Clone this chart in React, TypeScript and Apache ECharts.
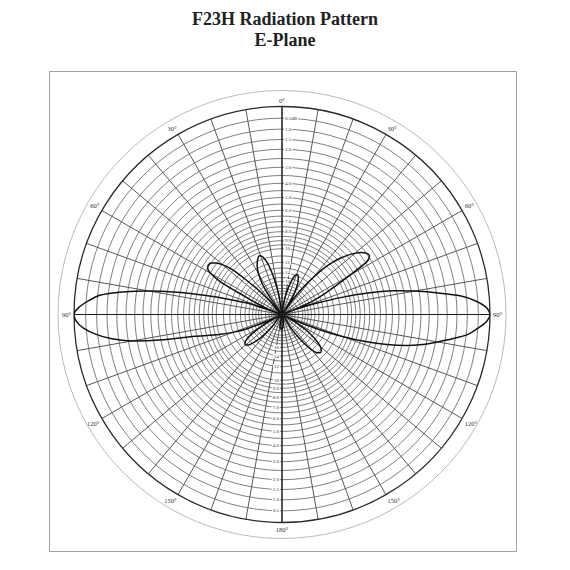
import { useEffect, useRef } from 'react'
import * as echarts from 'echarts'

// concentric grid rings of the polar paper, dB below peak
const ringDb = [
  0.5, 1, 1.5, 2, 2.5, 3, 3.5, 4, 4.5, 5, 5.5, 6, 6.5, 7, 7.5, 8, 8.5, 9, 9.5, 10,
  11, 12, 13, 14, 15, 16, 17, 18, 19, 20, 22, 24, 26, 28, 30,
]

// scale labels printed along the 0° / 180° axis
const topLabelDb = [0.5, 1, 1.5, 2, 3, 4, 5, 6, 7, 8, 9, 10, 12, 14, 16]
const topLabels = ['0.5dB', '1.0', '1.5', '2.0', '3.0', '4.0', '5.0', '6.0', '7.0', '8.0', '9.0', '10', '12', '14', '16']
const bottomLabelDb = [0.5, 1, 1.5, 2, 3, 4, 5, 6, 7, 8, 9, 10, 12, 14, 16]
const bottomLabels = ['0.5', '1.0', '1.5', '2.0', '3.0', '4.0', '5.0', '6.0', '7.0', '8.0', '9.0', '10', '12', '14', '16']

// main axes (0-180 and 90-270)
const axisAngles = [0, 90]

// measured E-plane pattern: bearing (deg, clockwise from top) and relative level (dB)
const patternAngle = [
  0, 6, 9, 12, 15, 18, 21, 24, 27, 30, 32, 34, 36, 38, 40, 42, 44, 46, 48, 50, 52, 54, 56, 58, 60, 62, 64, 66, 68, 69,
  70, 72, 74, 76, 78, 80, 82, 84, 86, 88, 90, 92, 94, 96, 98, 100, 102, 104, 106, 108, 110, 112, 114, 116,
  120, 123, 126, 129, 132, 135, 138, 141, 144, 147, 150, 165, 172, 178, 184, 190, 196,
  216, 219, 222, 225, 228, 231, 234, 237, 240, 242, 244,
  246, 248, 250, 252, 254, 256, 258, 260, 262, 264, 266, 268, 270, 272, 274, 276, 278, 280, 282, 284, 286, 288, 289, 290,
  292, 294, 296, 298, 300, 302, 304, 306, 308, 310, 312, 314, 316, 318, 320,
  323, 325, 327, 330, 333, 336, 339, 342, 345, 348, 351, 354, 360,
]
const patternDb = [
  -40, -40, -24, -19, -16, -14.2, -13.7, -14.3, -15.6, -18.5, -23, -40, -20, -15.5, -12.8, -10.6, -9.2, -8.2, -7.4, -6.8, -6.3, -6.0, -5.9, -6.3, -8.5, -10.8, -12.8, -15.5, -21, -40,
  -21, -15, -10.5, -7.4, -5.2, -3.7, -2.5, -1.3, -0.6, -0.15, 0, -0.15, -0.5, -0.9, -1.6, -2.4, -3.2, -4.2, -5.6, -7.5, -10.2, -14.5, -21, -40,
  -22, -17, -14.5, -12.7, -11.9, -11.7, -12.2, -13.8, -17, -23, -40, -40, -27, -23.5, -23, -25, -40,
  -40, -22, -17, -14.5, -13.2, -12.8, -13.3, -15, -19, -25, -40,
  -21, -14.5, -12, -10.2, -8.8, -7.3, -4.7, -2.7, -1.6, -0.9, -0.4, -0.1, 0, -0.2, -0.6, -1.1, -2.2, -3.7, -5.8, -8.5, -11.6, -15, -20, -40,
  -22, -17.5, -13.8, -9.5, -8, -7.5, -7.4, -7.5, -7.9, -8.6, -9.8, -12.5, -16, -22, -40,
  -40, -20, -15.5, -13, -11.6, -10.8, -10.4, -10.8, -12.3, -15.5, -21, -40, -40,
]

const amp = (db: number) => Math.pow(10, db / 20)
const serif = '"Liberation Serif", "DejaVu Serif", serif'

export default function App() {
  const ref = useRef<HTMLDivElement>(null)

  useEffect(() => {
    if (!ref.current) return
    const chart = echarts.init(ref.current, undefined, { renderer: 'svg' })

    chart.setOption({
      animation: false,
      backgroundColor: '#fff',
      title: {
        text: 'F23H Radiation Pattern',
        subtext: 'E-Plane',
        left: 'center',
        top: 5,
        itemGap: 3,
        textStyle: { fontFamily: serif, fontWeight: 'bold', fontSize: 18, color: '#222' },
        subtextStyle: { fontFamily: serif, fontWeight: 'bold', fontSize: 18, color: '#222' },
      },
      graphic: [
        {
          type: 'rect',
          shape: { x: 49.5, y: 71.5, width: 467, height: 480 },
          style: { fill: 'none', stroke: '#a0a0a0', lineWidth: 1 },
          silent: true,
        },
      ],
      polar: [
        { center: [282, 314.5], radius: 208 },
        { center: [282, 314.5], radius: 224 },
      ],
      angleAxis: [
        {
          polarIndex: 0,
          type: 'value',
          min: 0,
          max: 360,
          interval: 10,
          startAngle: 90,
          clockwise: true,
          axisLine: { lineStyle: { color: '#2a2a2a', width: 1.3 } },
          axisTick: { show: false },
          splitLine: { show: true, lineStyle: { color: '#3a3a3a', width: 0.85 } },
          axisLabel: {
            margin: 3,
            fontFamily: serif,
            fontSize: 6.5,
            color: '#333',
            formatter: (v: number) => (v % 30 === 0 && v < 360 ? `${v <= 180 ? v : 360 - v}°` : ''),
          },
        },
        {
          polarIndex: 1,
          type: 'value',
          min: 0,
          max: 360,
          startAngle: 90,
          axisLine: { lineStyle: { color: '#a8a8a8', width: 0.8 } },
          axisTick: { show: false },
          axisLabel: { show: false },
          splitLine: { show: false },
        },
      ],
      radiusAxis: [
        { polarIndex: 0, type: 'value', min: 0, max: 1, axisLine: { show: false }, axisTick: { show: false }, axisLabel: { show: false }, splitLine: { show: false } },
        { polarIndex: 1, type: 'value', min: 0, max: 1, axisLine: { show: false }, axisTick: { show: false }, axisLabel: { show: false }, splitLine: { show: false } },
      ],
      series: [
        {
          type: 'custom',
          coordinateSystem: 'polar',
          polarIndex: 0,
          silent: true,
          z: 1,
          data: ringDb.map((d) => [amp(-d), 0]),
          renderItem: (params: any, api: any) => {
            const cs = params.coordSys
            const p = api.coord([api.value(0), 0])
            const r = Math.hypot(p[0] - cs.cx, p[1] - cs.cy)
            return {
              type: 'circle',
              shape: { cx: cs.cx, cy: cs.cy, r },
              style: { fill: 'none', stroke: '#555', lineWidth: 0.75 },
            }
          },
        },
        {
          type: 'custom',
          coordinateSystem: 'polar',
          polarIndex: 0,
          silent: true,
          z: 2,
          data: axisAngles.map((a) => [1, a]),
          renderItem: (_params: any, api: any) => {
            const a = api.value(1)
            const p1 = api.coord([1, a])
            const p2 = api.coord([1, a + 180])
            return {
              type: 'line',
              shape: { x1: p1[0], y1: p1[1], x2: p2[0], y2: p2[1] },
              style: { stroke: '#1a1a1a', lineWidth: 1.2 },
            }
          },
        },
        {
          type: 'custom',
          coordinateSystem: 'polar',
          polarIndex: 0,
          silent: true,
          z: 3,
          data: topLabelDb.map((d) => [amp(-d), 0]),
          renderItem: (params: any, api: any) => {
            const p = api.coord([api.value(0), 0])
            return {
              type: 'text',
              style: {
                text: topLabels[params.dataIndex],
                x: p[0] + 2,
                y: p[1],
                align: 'left',
                verticalAlign: 'middle',
                fontSize: 5,
                fontFamily: serif,
                fill: '#333',
                backgroundColor: '#fff',
                padding: [0, 1],
              },
            }
          },
        },
        {
          type: 'custom',
          coordinateSystem: 'polar',
          polarIndex: 0,
          silent: true,
          z: 3,
          data: bottomLabelDb.map((d) => [amp(-d), 180]),
          renderItem: (params: any, api: any) => {
            const p = api.coord([api.value(0), 180])
            return {
              type: 'text',
              style: {
                text: bottomLabels[params.dataIndex],
                x: p[0] - 2,
                y: p[1],
                align: 'right',
                verticalAlign: 'middle',
                fontSize: 5,
                fontFamily: serif,
                fill: '#333',
                backgroundColor: '#fff',
                padding: [0, 1],
              },
            }
          },
        },
        {
          type: 'line',
          coordinateSystem: 'polar',
          polarIndex: 0,
          z: 4,
          showSymbol: false,
          smooth: 0.25,
          silent: true,
          lineStyle: { color: '#111', width: 1.5 },
          data: patternAngle.map((a, i) => [amp(patternDb[i]), a]),
        },
      ],
    })

    return () => chart.dispose()
  }, [])

  return <div ref={ref} style={{ position: 'fixed', left: 0, top: 0, width: 570, height: 570 }} />
}
